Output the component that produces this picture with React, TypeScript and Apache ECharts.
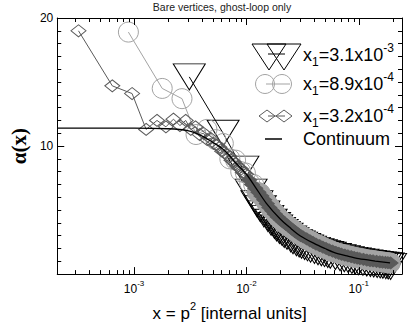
import React, { useEffect, useRef } from "react";
import * as echarts from "echarts";

const titleText = "Bare vertices, ghost-loop only";

// Continuum curve
const contX = [2.07e-4, 5e-4, 1e-3, 2e-3, 3e-3, 4e-3, 5e-3, 6e-3, 7e-3, 8e-3, 1e-2, 1.2e-2, 1.5e-2, 2e-2, 2.5e-2, 3e-2, 4e-2, 5e-2, 6e-2, 8e-2, 0.1, 0.14, 0.19];
const contY = [11.4, 11.4, 11.4, 11.35, 11.2, 10.8, 10.3, 9.85, 9.3, 8.7, 7.8, 6.8, 5.55, 4.3, 3.55, 3.0, 2.4, 2.0, 1.7, 1.4, 1.2, 1.02, 0.88];

// x1 = 3.1e-3 (triangles)
const triX = [3.1e-3, 6.2e-3, 9.3e-3, 1.1e-2, 1.24e-2, 1.33e-2, 1.43e-2, 1.55e-2, 1.66e-2, 1.78e-2, 1.86e-2, 1.97e-2, 2.08e-2, 2.17e-2, 2.3e-2, 2.48e-2, 2.6e-2, 2.79e-2, 2.95e-2, 3.1e-2, 3.3e-2, 3.5e-2, 3.72e-2, 4.03e-2, 4.34e-2, 4.65e-2, 4.96e-2, 5.3e-2, 5.58e-2, 6.2e-2, 6.82e-2, 7.44e-2, 8.06e-2, 8.68e-2, 9.3e-2, 0.1, 0.109, 0.118, 0.127, 0.136, 0.146, 0.155, 0.164, 0.174, 0.183, 0.192];
const triY = [15.4, 11.0, 8.2, 6.4, 5.5, 5.1, 4.7, 4.35, 4.05, 3.8, 3.6, 3.4, 3.25, 3.1, 2.95, 2.75, 2.6, 2.45, 2.35, 2.25, 2.15, 2.05, 1.95, 1.85, 1.75, 1.67, 1.6, 1.53, 1.47, 1.37, 1.28, 1.2, 1.13, 1.07, 1.02, 0.97, 0.92, 0.87, 0.83, 0.79, 0.75, 0.72, 0.69, 0.66, 0.63, 0.6];

// x1 = 8.9e-4 (circles)
const circX = [8.9e-4, 1.78e-3, 2.67e-3, 3.56e-3, 4.45e-3, 5.34e-3, 6.23e-3, 7.12e-3, 8.01e-3, 8.9e-3, 9.79e-3, 1.07e-2, 1.16e-2, 1.25e-2, 1.33e-2, 1.42e-2, 1.51e-2, 1.6e-2, 1.69e-2, 1.78e-2, 1.87e-2, 1.96e-2, 2.05e-2, 2.14e-2, 2.23e-2, 2.36e-2, 2.49e-2, 2.67e-2, 2.85e-2, 3.03e-2, 3.2e-2, 3.38e-2, 3.56e-2, 3.78e-2, 4.0e-2, 4.23e-2, 4.45e-2, 4.72e-2, 4.98e-2, 5.3e-2, 5.6e-2, 5.9e-2, 6.23e-2, 6.67e-2, 7.12e-2, 7.56e-2, 8.0e-2, 8.45e-2, 8.9e-2, 9.5e-2, 0.102, 0.109, 0.116, 0.125, 0.134, 0.142, 0.151, 0.16, 0.169, 0.18, 0.191];
const circY = [18.9, 14.5, 13.7, 10.9, 11.3, 10.5, 10.2, 9.0, 8.9, 8.0, 7.9, 7.1, 7.0, 6.4, 6.3, 5.9, 5.6, 5.3, 5.0, 4.8, 4.55, 4.35, 4.2, 4.05, 3.9, 3.75, 3.6, 3.4, 3.2, 3.05, 2.9, 2.75, 2.65, 2.55, 2.42, 2.32, 2.22, 2.12, 2.02, 1.93, 1.84, 1.76, 1.69, 1.62, 1.55, 1.49, 1.44, 1.39, 1.34, 1.29, 1.24, 1.19, 1.14, 1.1, 1.06, 1.03, 0.99, 0.96, 0.93, 0.9, 0.87];

// x1 = 3.2e-4 (diamonds)
const diaX = [3.2e-4, 6.4e-4, 9.6e-4, 1.28e-3, 1.6e-3, 1.92e-3, 2.24e-3, 2.56e-3, 2.88e-3, 3.2e-3, 3.52e-3, 3.84e-3, 4.16e-3, 4.48e-3, 4.8e-3, 5.12e-3, 5.44e-3, 5.76e-3, 6.08e-3, 6.4e-3, 6.72e-3, 7.04e-3, 7.36e-3, 7.68e-3, 8.0e-3, 8.32e-3, 8.64e-3, 8.96e-3, 9.28e-3, 9.6e-3, 9.92e-3, 1.06e-2, 1.12e-2, 1.2e-2, 1.28e-2, 1.36e-2, 1.44e-2, 1.52e-2, 1.6e-2, 1.7e-2, 1.79e-2, 1.9e-2, 2.02e-2, 2.14e-2, 2.24e-2, 2.4e-2, 2.56e-2, 2.72e-2, 2.88e-2, 3.04e-2, 3.2e-2, 3.44e-2, 3.68e-2, 3.92e-2, 4.16e-2, 4.48e-2, 4.8e-2, 5.12e-2, 5.44e-2, 5.84e-2, 6.24e-2, 6.64e-2, 7.04e-2, 7.52e-2, 8.0e-2, 8.56e-2, 9.12e-2, 9.68e-2, 0.1024, 0.11, 0.118, 0.126, 0.134, 0.144, 0.154, 0.163, 0.173, 0.182, 0.192];
const diaY = [19.0, 14.7, 14.1, 11.3, 12.0, 11.5, 12.1, 11.6, 12.0, 11.3, 11.5, 10.9, 11.0, 10.5, 10.6, 10.2, 10.1, 9.9, 9.6, 9.5, 9.3, 9.2, 8.9, 8.8, 8.6, 8.4, 8.3, 8.2, 7.95, 7.9, 7.8, 7.35, 7.0, 6.7, 6.4, 6.1, 5.8, 5.5, 5.2, 4.95, 4.7, 4.45, 4.25, 4.05, 3.9, 3.7, 3.5, 3.3, 3.15, 3.0, 2.9, 2.75, 2.6, 2.47, 2.35, 2.22, 2.1, 2.0, 1.9, 1.8, 1.7, 1.62, 1.55, 1.48, 1.42, 1.36, 1.3, 1.25, 1.2, 1.15, 1.1, 1.06, 1.03, 0.99, 0.96, 0.93, 0.91, 0.89, 0.87];

// axis ticks (x, log axis)
const xTickValues = [3e-4, 4e-4, 5e-4, 6e-4, 7e-4, 8e-4, 9e-4, 1e-3, 2e-3, 3e-3, 4e-3, 5e-3, 6e-3, 7e-3, 8e-3, 9e-3, 1e-2, 2e-2, 3e-2, 4e-2, 5e-2, 6e-2, 7e-2, 8e-2, 9e-2, 1e-1, 2e-1];

const legendMantissas = ["3.1", "8.9", "3.2"];
const legendExponents = ["-3", "-4", "-4"];
const continuumLabel = "Continuum";

const FONT = "Liberation Sans, Arial, Helvetica, sans-serif";
const CIRC = "#a3a3a3";
const DIA = "#5a5a5a";

const isPow10 = (v: number) => Math.abs(Math.log10(v) - Math.round(Math.log10(v))) < 1e-6;

// points where markers overlap into a solid band are drawn filled
const build = (xs: number[], ys: number[], fillFrom: number, fill: string) =>
  xs.map((x, i) => (x >= fillFrom ? { value: [x, ys[i]], itemStyle: { color: fill } } : { value: [x, ys[i]] }));

export default function App() {
  const ref = useRef<HTMLDivElement>(null);
  useEffect(() => {
    if (!ref.current) return;
    const chart = echarts.init(ref.current, null, { renderer: "svg" });

    const legendRich = {
      b: { fontSize: 18, lineHeight: 26, fontFamily: FONT, color: "#000", verticalAlign: "middle" },
      s: { fontSize: 12, lineHeight: 12, fontFamily: FONT, color: "#000", verticalAlign: "bottom" },
      p: { fontSize: 12, lineHeight: 12, fontFamily: FONT, color: "#000", verticalAlign: "top" },
    };
    const legendRowsY = [55, 84, 116];
    const textX = 303;

    const graphic: any[] = [
      {
        type: "text", x: 222, y: 7, silent: true,
        style: { text: titleText, fontSize: 10.5, fill: "#222", align: "center", verticalAlign: "middle", fontFamily: FONT },
      },
      // legend symbols: triangles
      { type: "polygon", silent: true, shape: { points: [[252, 44], [286, 44], [269, 70]] }, style: { fill: "none", stroke: "#000", lineWidth: 1 } },
      { type: "polygon", silent: true, shape: { points: [[267, 44], [301, 44], [284, 70]] }, style: { fill: "none", stroke: "#000", lineWidth: 1 } },
      { type: "line", silent: true, shape: { x1: 268, y1: 54, x2: 285, y2: 54 }, style: { stroke: "#000", lineWidth: 1 } },
      // circles
      { type: "circle", silent: true, shape: { cx: 265, cy: 84, r: 9.5 }, style: { fill: "none", stroke: CIRC, lineWidth: 1 } },
      { type: "circle", silent: true, shape: { cx: 282, cy: 84, r: 9.5 }, style: { fill: "none", stroke: CIRC, lineWidth: 1 } },
      { type: "line", silent: true, shape: { x1: 266, y1: 84, x2: 290, y2: 84 }, style: { stroke: CIRC, lineWidth: 1 } },
      // diamonds
      { type: "polygon", silent: true, shape: { points: [[259, 116], [267, 110], [275, 116], [267, 122]] }, style: { fill: "none", stroke: DIA, lineWidth: 1 } },
      { type: "polygon", silent: true, shape: { points: [[276, 116], [284, 110], [292, 116], [284, 122]] }, style: { fill: "none", stroke: DIA, lineWidth: 1 } },
      { type: "line", silent: true, shape: { x1: 268, y1: 116, x2: 285, y2: 116 }, style: { stroke: DIA, lineWidth: 1 } },
      // continuum
      { type: "line", silent: true, shape: { x1: 265, y1: 139, x2: 282, y2: 139 }, style: { stroke: "#000", lineWidth: 1.5 } },
      {
        type: "text", x: textX, y: 139, silent: true,
        style: { text: continuumLabel, fontSize: 18, fontFamily: FONT, fill: "#000", verticalAlign: "middle" },
      },
    ];
    legendMantissas.forEach((m, i) => {
      graphic.push({
        type: "text", x: textX, y: legendRowsY[i], silent: true,
        style: {
          text: `{b|x}{s|1}{b|=${m}x10}{p|${legendExponents[i]}}`,
          rich: legendRich, verticalAlign: "middle",
        },
      });
    });

    const hollow = (c: string) => ({ color: "rgba(0,0,0,0)", borderColor: c, borderWidth: 1 });

    const option: any = {
      animation: false,
      grid: { left: 43, right: 7, top: 18, bottom: 45 },
      xAxis: [
        {
          type: "log", logBase: 10, min: 2.07e-4, max: 0.2427, position: "bottom",
          name: "{a|x = p}{s|2}{a| [internal units]}",
          nameLocation: "middle", nameGap: 20,
          nameTextStyle: {
            rich: {
              a: { fontSize: 17, fontFamily: FONT, color: "#000", lineHeight: 22, verticalAlign: "bottom" },
              s: { fontSize: 11, fontFamily: FONT, color: "#000", lineHeight: 11, verticalAlign: "top" },
            },
          },
          axisLine: { onZero: false, lineStyle: { color: "#000", width: 1 } },
          axisTick: { show: false },
          splitLine: { show: false },
          axisLabel: {
            margin: 5,
            formatter: (v: number) => (isPow10(v) ? `{b|10}{s|${Math.round(Math.log10(v))}}` : ""),
            rich: {
              b: { fontSize: 12, fontFamily: FONT, color: "#000", lineHeight: 16, verticalAlign: "bottom" },
              s: { fontSize: 8, fontFamily: FONT, color: "#000", lineHeight: 8, verticalAlign: "top" },
            },
          },
        },
        {
          type: "log", logBase: 10, min: 2.07e-4, max: 0.2427, position: "top",
          axisLine: { onZero: false, lineStyle: { color: "#000", width: 1 } },
          axisTick: { show: false }, axisLabel: { show: false }, splitLine: { show: false },
        },
      ],
      yAxis: [
        {
          type: "value", min: 0, max: 20, interval: 10, position: "left",
          name: "α(x)", nameLocation: "middle", nameGap: 20, nameRotate: 90,
          nameTextStyle: { fontSize: 21, fontFamily: "Liberation Serif, DejaVu Serif, serif", fontWeight: "bold", color: "#000" },
          axisLine: { onZero: false, lineStyle: { color: "#000", width: 1 } },
          axisTick: { show: true, inside: true, length: 7, lineStyle: { color: "#000" } },
          minorTick: { show: true, splitNumber: 10, length: 4, lineStyle: { color: "#000" } },
          splitLine: { show: false },
          axisLabel: {
            margin: 4, fontSize: 12, fontFamily: FONT, color: "#000",
            formatter: (v: number) => (v === 0 ? "" : String(v)),
          },
        },
        {
          type: "value", min: 0, max: 20, interval: 10, position: "right",
          axisLine: { onZero: false, lineStyle: { color: "#000", width: 1 } },
          axisTick: { show: true, inside: true, length: 7, lineStyle: { color: "#000" } },
          minorTick: { show: true, splitNumber: 10, length: 4, lineStyle: { color: "#000" } },
          splitLine: { show: false }, axisLabel: { show: false },
        },
      ],
      graphic,
      series: [
        {
          type: "custom", silent: true, xAxisIndex: 0, yAxisIndex: 0, z: 10,
          data: xTickValues.map((v) => [v, 1]),
          renderItem: (params: any, api: any) => {
            const v = api.value(0);
            const px = Math.round(api.coord([v, 1])[0]) + 0.5;
            const cs = params.coordSys;
            const len = isPow10(v) ? 7 : 4;
            const bottom = cs.y + cs.height;
            return {
              type: "group",
              children: [
                { type: "line", shape: { x1: px, y1: bottom, x2: px, y2: bottom - len }, style: { stroke: "#000", lineWidth: 1 } },
                { type: "line", shape: { x1: px, y1: cs.y, x2: px, y2: cs.y + len }, style: { stroke: "#000", lineWidth: 1 } },
              ],
            };
          },
        },
        {
          type: "line", name: "x1=3.1e-3", data: triX.map((x, i) => [x, triY[i]]), silent: true,
          symbol: "triangle", symbolRotate: 180, symbolSize: [32, 26],
          itemStyle: hollow("#000"), lineStyle: { color: "#000", width: 1 },
          emphasis: { disabled: true }, z: 2,
        },
        {
          type: "line", name: "x1=8.9e-4", data: build(circX, circY, 1.2e-2, CIRC), silent: true,
          symbol: "circle", symbolSize: 20,
          itemStyle: hollow(CIRC), lineStyle: { color: CIRC, width: 1 },
          emphasis: { disabled: true }, z: 3,
        },
        {
          type: "line", name: "x1=3.2e-4", data: build(diaX, diaY, 1.0e-2, DIA), silent: true,
          symbol: "diamond", symbolSize: [15, 12],
          itemStyle: hollow(DIA), lineStyle: { color: DIA, width: 1 },
          emphasis: { disabled: true }, z: 4,
        },
        {
          type: "line", name: "Continuum", data: contX.map((x, i) => [x, contY[i]]), silent: true,
          showSymbol: false, smooth: 0.3,
          lineStyle: { color: "#000", width: 1.3 },
          emphasis: { disabled: true }, z: 5,
        },
      ],
    };
    chart.setOption(option);
    return () => chart.dispose();
  }, []);
  return <div ref={ref} style={{ position: "absolute", left: 0, top: 0, width: 409, height: 327 }} />;
}
